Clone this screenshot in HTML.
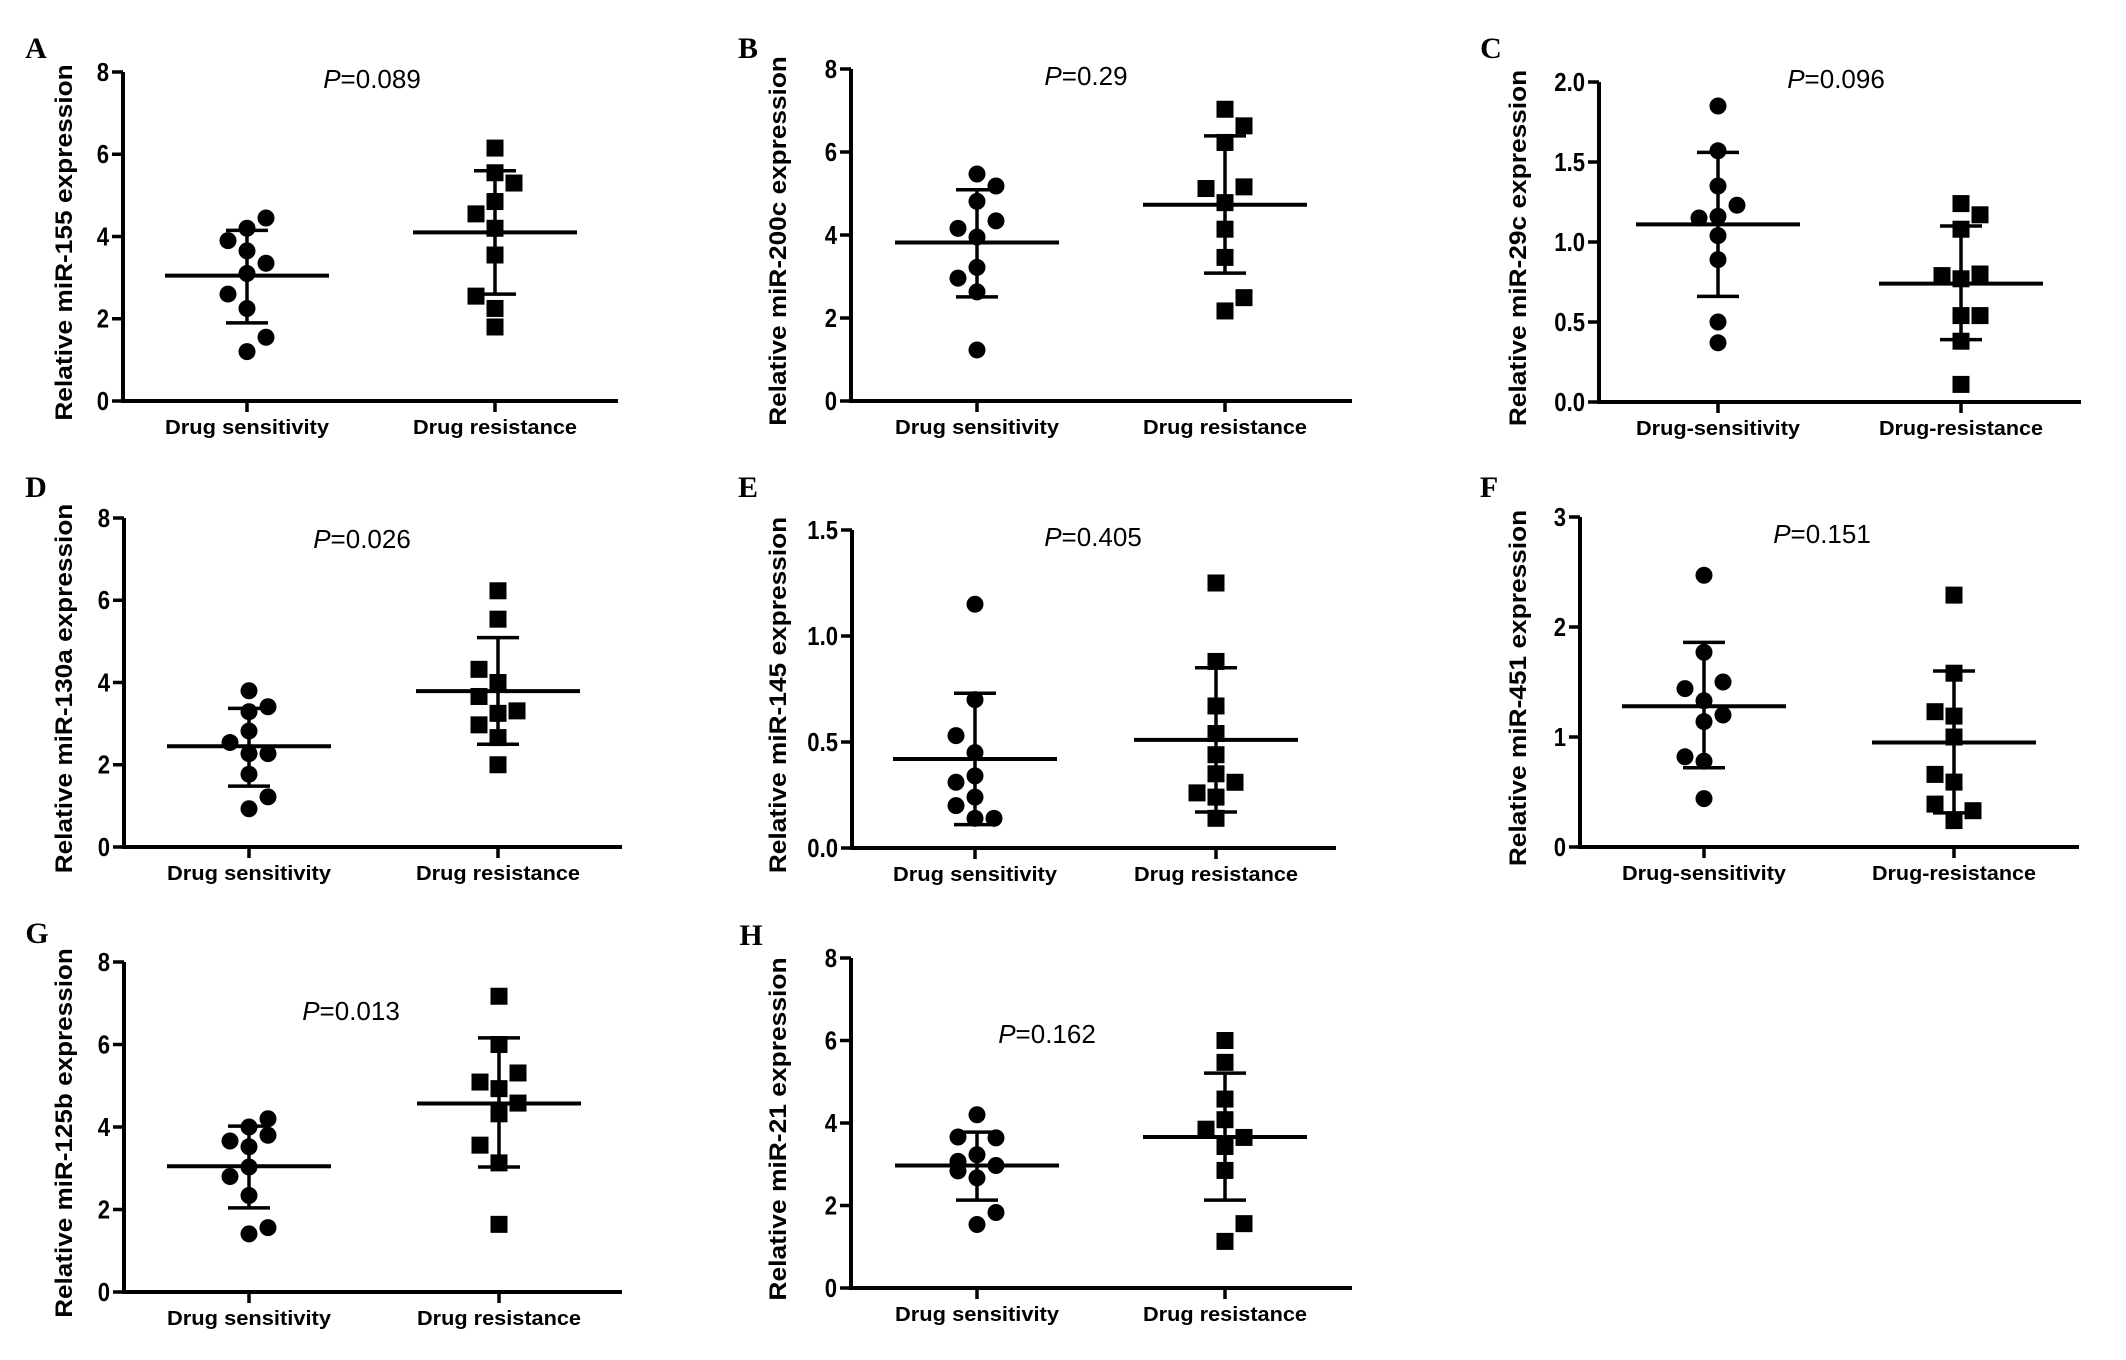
<!DOCTYPE html>
<html><head><meta charset="utf-8"><style>
html,body{margin:0;padding:0;background:#fff;}
svg{display:block;}
text{font-family:"Liberation Sans",Arial,sans-serif;fill:#000;}
</style></head><body>
<svg id="fig" width="2126" height="1360" viewBox="0 0 2126 1360" xmlns="http://www.w3.org/2000/svg"></svg>
<script>
// ---- data ----
const groupLabelsSpace = ["Drug sensitivity","Drug resistance"];
const groupLabelsHyphen = ["Drug-sensitivity","Drug-resistance"];
const ticks8 = [0,2,4,6,8];
const ticks2 = [0,0.5,1,1.5,2];
const ticks15 = [0,0.5,1,1.5];
const ticks3 = [0,1,2,3];

const aSens = [4.45,4.2,3.9,3.65,3.35,3.1,2.6,2.25,1.55,1.2];
const aSensJit = [1,0,-1,0,1,0,-1,0,1,0];
const aRes = [6.15,5.55,5.3,4.85,4.55,4.2,3.55,2.55,2.25,1.8];
const aResJit = [0,0,1,0,-1,0,0,-1,0,0];
const aMean = [3.05,4.1]; const aHi = [4.15,5.6]; const aLo = [1.9,2.6];

const bSens = [5.47,5.18,4.81,4.34,4.16,3.95,3.22,2.96,2.63,1.23];
const bSensJit = [0,1,0,1,-1,0,0,-1,0,0];
const bRes = [7.03,6.63,6.23,5.12,5.16,4.78,4.14,3.46,2.49,2.17];
const bResJit = [0,1,0,-1,1,0,0,0,1,0];
const bMean = [3.82,4.73]; const bHi = [5.09,6.39]; const bLo = [2.51,3.08];

const cSens = [1.85,1.57,1.35,1.23,1.15,1.16,1.04,0.89,0.5,0.37];
const cSensJit = [0,0,0,1,-1,0,0,0,0,0];
const cRes = [1.24,1.17,1.08,0.79,0.77,0.8,0.54,0.54,0.38,0.11];
const cResJit = [0,1,0,-1,0,1,0,1,0,0];
const cMean = [1.11,0.74]; const cHi = [1.56,1.1]; const cLo = [0.66,0.39];

const dSens = [3.8,3.41,3.29,2.82,2.54,2.27,2.27,1.77,1.22,0.93];
const dSensJit = [0,1,0,0,-1,0,1,0,1,0];
const dRes = [6.23,5.54,4.32,4.0,3.66,3.31,3.25,2.97,2.66,2.0];
const dResJit = [0,0,-1,0,-1,1,0,-1,0,0];
const dMean = [2.45,3.79]; const dHi = [3.37,5.09]; const dLo = [1.48,2.5];

const eSens = [1.15,0.7,0.53,0.45,0.34,0.31,0.24,0.2,0.14,0.14];
const eSensJit = [0,0,-1,0,0,-1,0,-1,0,1];
const eRes = [1.25,0.88,0.67,0.54,0.44,0.35,0.31,0.26,0.24,0.14];
const eResJit = [0,0,0,0,0,0,1,-1,0,0];
const eMean = [0.42,0.51]; const eHi = [0.73,0.85]; const eLo = [0.11,0.17];

const fSens = [2.47,1.77,1.5,1.44,1.33,1.2,1.14,0.82,0.78,0.44];
const fSensJit = [0,0,1,-1,0,1,0,-1,0,0];
const fRes = [2.29,1.58,1.23,1.19,1.0,0.66,0.59,0.39,0.33,0.24];
const fResJit = [0,0,-1,0,0,-1,0,-1,1,0];
const fMean = [1.28,0.95]; const fHi = [1.86,1.6]; const fLo = [0.72,0.31];

const gSens = [4.2,4.0,3.8,3.66,3.52,3.03,2.8,2.34,1.56,1.41];
const gSensJit = [1,0,1,-1,0,0,-1,0,1,0];
const gRes = [7.17,6.0,5.31,5.09,4.93,4.58,4.32,3.56,3.13,1.64];
const gResJit = [0,0,1,-1,0,1,0,-1,0,0];
const gMean = [3.05,4.57]; const gHi = [4.02,6.16]; const gLo = [2.04,3.03];

const hSens = [4.2,3.66,3.64,3.23,3.07,2.97,2.84,2.67,1.83,1.54];
const hSensJit = [0,-1,1,0,-1,1,-1,0,1,0];
const hRes = [6.0,5.47,4.58,4.08,3.85,3.65,3.43,2.85,1.56,1.13];
const hResJit = [0,0,0,0,-1,1,0,0,1,0];
const hMean = [2.97,3.66]; const hHi = [3.78,5.21]; const hLo = [2.13,2.13];

const pValues = ["0.089","0.29","0.096","0.026","0.405","0.151","0.013","0.162"];

// ---- layout ----
const panels = [
 {id:'a',letter:'A',lx:36,ly:58,ax:123,xend:618,top:72,zero:401,cats:[247,495],max:8,ticks:ticks8,dec:0,labels:groupLabelsSpace,title:'Relative miR-155 expression',tx:63,px:372,py:88,sens:aSens,sj:aSensJit,res:aRes,rj:aResJit,mean:aMean,hi:aHi,lo:aLo,p:0},
 {id:'b',letter:'B',lx:748,ly:58,ax:851,xend:1352,top:69,zero:401,cats:[977,1225],max:8,ticks:ticks8,dec:0,labels:groupLabelsSpace,title:'Relative miR-200c expression',tx:777,px:1086,py:85,sens:bSens,sj:bSensJit,res:bRes,rj:bResJit,mean:bMean,hi:bHi,lo:bLo,p:1},
 {id:'c',letter:'C',lx:1491,ly:58,ax:1599,xend:2081,top:82,zero:402,cats:[1718,1961],max:2,ticks:ticks2,dec:1,labels:groupLabelsHyphen,title:'Relative miR-29c expression',tx:1517,px:1836,py:88,sens:cSens,sj:cSensJit,res:cRes,rj:cResJit,mean:cMean,hi:cHi,lo:cLo,p:2},
 {id:'d',letter:'D',lx:36,ly:497,ax:124,xend:622,top:518,zero:847,cats:[249,498],max:8,ticks:ticks8,dec:0,labels:groupLabelsSpace,title:'Relative miR-130a expression',tx:63,px:362,py:548,sens:dSens,sj:dSensJit,res:dRes,rj:dResJit,mean:dMean,hi:dHi,lo:dLo,p:3},
 {id:'e',letter:'E',lx:748,ly:497,ax:852,xend:1336,top:530,zero:848,cats:[975,1216],max:1.5,ticks:ticks15,dec:1,labels:groupLabelsSpace,title:'Relative miR-145 expression',tx:777,px:1093,py:546,sens:eSens,sj:eSensJit,res:eRes,rj:eResJit,mean:eMean,hi:eHi,lo:eLo,p:4},
 {id:'f',letter:'F',lx:1489,ly:497,ax:1580,xend:2079,top:517,zero:847,cats:[1704,1954],max:3,ticks:ticks3,dec:0,labels:groupLabelsHyphen,title:'Relative miR-451 expression',tx:1517,px:1822,py:543,sens:fSens,sj:fSensJit,res:fRes,rj:fResJit,mean:fMean,hi:fHi,lo:fLo,p:5},
 {id:'g',letter:'G',lx:37,ly:943,ax:124,xend:622,top:962,zero:1292,cats:[249,499],max:8,ticks:ticks8,dec:0,labels:groupLabelsSpace,title:'Relative miR-125b expression',tx:63,px:351,py:1020,sens:gSens,sj:gSensJit,res:gRes,rj:gResJit,mean:gMean,hi:gHi,lo:gLo,p:6},
 {id:'h',letter:'H',lx:751,ly:945,ax:851,xend:1352,top:958,zero:1288,cats:[977,1225],max:8,ticks:ticks8,dec:0,labels:groupLabelsSpace,title:'Relative miR-21 expression',tx:777,px:1047,py:1043,sens:hSens,sj:hSensJit,res:hRes,rj:hResJit,mean:hMean,hi:hHi,lo:hLo,p:7}
];

const NS='http://www.w3.org/2000/svg';
const svg=document.getElementById('fig');
function mk(tag, attrs, parent){
  const e=document.createElementNS(NS,tag);
  for(const k in attrs) e.setAttribute(k,attrs[k]);
  (parent||svg).appendChild(e);
  return e;
}
const JIT=19, HALF=82, CAP=21;

panels.forEach(P=>{
  const g=mk('g',{});
  
  
  const ys=v=>P.zero-(v/P.max)*(P.zero-P.top);

  const L=mk('text',{x:P.lx,y:P.ly,'text-anchor':'middle','font-size':30,'font-weight':'bold',style:'font-family:"Liberation Serif",serif'},g);
  L.textContent=P.letter;
  
  

  const ya=mk('line',{x1:P.ax,y1:P.top,x2:P.ax,y2:P.zero+2,stroke:'#000','stroke-width':4},g);
  
  
  const xa=mk('line',{x1:P.ax-2,y1:P.zero,x2:P.xend,y2:P.zero,stroke:'#000','stroke-width':4},g);
  
  

  P.ticks.forEach(t=>{
    const y=ys(t);
    const tk=mk('line',{x1:P.ax-11,y1:y,x2:P.ax,y2:y,stroke:'#000','stroke-width':3.5},g);
    
    
    const tl=mk('text',{x:P.ax-14,y:y+9,'text-anchor':'end','font-size':26,'font-weight':'bold',transform:`translate(${P.ax-14},0) scale(0.85,1) translate(${-(P.ax-14)},0)`},g);
    tl.textContent=t.toFixed(P.dec);
    
    
  });

  P.cats.forEach((cx,i)=>{
    const tk=mk('line',{x1:cx,y1:P.zero,x2:cx,y2:P.zero+11,stroke:'#000','stroke-width':3.5},g);
    
    
    const lb=mk('text',{x:cx,y:P.zero+33,'text-anchor':'middle','font-size':20,'font-weight':'bold',textLength:164,lengthAdjust:'spacingAndGlyphs'},g);
    lb.textContent=P.labels[i];
    
    
  });

  const midY=(P.top+P.zero)/2+6;
  const tt=mk('text',{x:0,y:0,'text-anchor':'middle','font-size':24,'font-weight':'bold',textLength:P.title.length*13.2,lengthAdjust:'spacingAndGlyphs',transform:`translate(${P.tx+9},${midY}) rotate(-90)`},g);
  tt.textContent=P.title;
  
  

  const pt=mk('text',{x:P.px,y:P.py,'text-anchor':'middle','font-size':26},g);
  const pi=mk('tspan',{'font-style':'italic'},pt);
  pi.textContent='P';
  const pv=mk('tspan',{},pt);
  pv.textContent='='+pValues[P.p];
  
  

  [P.sens,P.res].forEach((vals,gi)=>{
    const jit = gi===0?P.sj:P.rj;
    const cx=P.cats[gi];
    vals.forEach((v,i)=>{
      const x=cx+jit[i]*JIT, y=ys(v);
      let m;
      if(gi===0){
        m=mk('circle',{cx:x,cy:y,r:8.5,fill:'#000'},g);
        
      } else {
        m=mk('rect',{x:x-8.5,y:y-8.5,width:17,height:17,fill:'#000'},g);
        
      }
      
    });
    const ml=mk('line',{x1:cx-HALF,y1:ys(P.mean[gi]),x2:cx+HALF,y2:ys(P.mean[gi]),stroke:'#000','stroke-width':4},g);
    
    
    const eb=mk('line',{x1:cx,y1:ys(P.hi[gi]),x2:cx,y2:ys(P.lo[gi]),stroke:'#000','stroke-width':3.5},g);
    
    
    [P.hi[gi],P.lo[gi]].forEach(v=>{
      const c=mk('line',{x1:cx-CAP,y1:ys(v),x2:cx+CAP,y2:ys(v),stroke:'#000','stroke-width':3.5},g);
      
      
    });
  });
});
</script>
</body></html>
